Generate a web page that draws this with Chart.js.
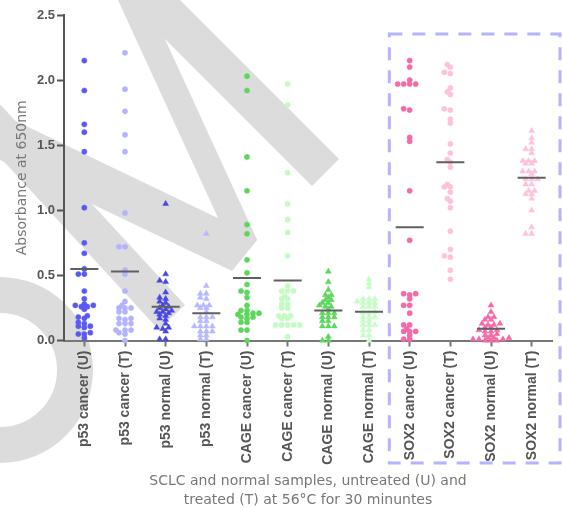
<!DOCTYPE html>
<html>
<head>
<meta charset="utf-8">
<script src="https://cdn.jsdelivr.net/npm/chart.js@4.4.1/dist/chart.umd.min.js"></script>
<style>
    html, body { margin: 0; padding: 0; background: #fff; }
    canvas { display: block; }
</style>
</head>
<body>
<canvas id="chart" width="562" height="508"></canvas>
<script>
const categories = [
    'p53 cancer (U)', 'p53 cancer (T)', 'p53 normal (U)', 'p53 normal (T)',
    'CAGE cancer (U)', 'CAGE cancer (T)', 'CAGE normal (U)', 'CAGE normal (T)',
    'SOX2 cancer (U)', 'SOX2 cancer (T)', 'SOX2 normal (U)', 'SOX2 normal (T)',
];

const p53CancerU = [2.15, 1.92, 1.66, 1.60, 1.45, 1.02, 0.75, 0.67, 0.55, 0.51, 0.51, 0.38, 0.32, 0.28, 0.27, 0.27, 0.26, 0.26, 0.24, 0.19, 0.18, 0.17, 0.14, 0.13, 0.11, 0.11, 0.10, 0.06, 0.05, 0.05, 0.02];
const p53CancerT = [2.21, 1.93, 1.76, 1.58, 1.45, 0.98, 0.72, 0.72, 0.54, 0.51, 0.38, 0.30, 0.27, 0.25, 0.25, 0.25, 0.22, 0.22, 0.17, 0.17, 0.16, 0.13, 0.13, 0.13, 0.08, 0.08, 0.08, 0.06, 0.05, 0.0];
const p53NormalU = [1.05, 0.51, 0.46, 0.45, 0.37, 0.33, 0.32, 0.30, 0.29, 0.27, 0.26, 0.25, 0.24, 0.23, 0.22, 0.22, 0.21, 0.20, 0.19, 0.17, 0.16, 0.13, 0.10, 0.10, 0.09, 0.07, 0.01, 0.01];
const p53NormalT = [0.82, 0.42, 0.36, 0.36, 0.33, 0.32, 0.27, 0.27, 0.27, 0.25, 0.25, 0.22, 0.18, 0.18, 0.18, 0.15, 0.15, 0.11, 0.11, 0.11, 0.11, 0.07, 0.07, 0.07, 0.04, 0.04, 0.01, 0.01];
const cageCancerU = [2.03, 1.92, 1.41, 1.15, 0.89, 0.82, 0.62, 0.52, 0.43, 0.38, 0.37, 0.33, 0.27, 0.23, 0.23, 0.21, 0.21, 0.20, 0.20, 0.18, 0.18, 0.17, 0.14, 0.14, 0.08, 0.08, 0.0];
const cageCancerT = [1.97, 1.81, 1.29, 1.05, 0.93, 0.83, 0.65, 0.42, 0.38, 0.38, 0.38, 0.34, 0.32, 0.32, 0.28, 0.28, 0.25, 0.25, 0.19, 0.19, 0.19, 0.17, 0.17, 0.12, 0.12, 0.12, 0.12, 0.12, 0.03];
const cageNormalU = [0.53, 0.45, 0.39, 0.35, 0.35, 0.33, 0.31, 0.31, 0.29, 0.29, 0.27, 0.26, 0.26, 0.24, 0.21, 0.21, 0.21, 0.18, 0.18, 0.18, 0.15, 0.15, 0.11, 0.11, 0.11, 0.03, 0.0, 0.0];
const cageNormalT = [0.47, 0.44, 0.41, 0.32, 0.32, 0.32, 0.30, 0.29, 0.29, 0.29, 0.26, 0.26, 0.26, 0.22, 0.21, 0.21, 0.18, 0.18, 0.18, 0.15, 0.15, 0.12, 0.12, 0.12, 0.08, 0.08, 0.04, 0.04, 0.0];
const sox2CancerU = [2.15, 2.10, 2.00, 1.97, 1.97, 1.97, 1.97, 1.78, 1.77, 1.56, 1.53, 1.15, 0.77, 0.36, 0.36, 0.35, 0.32, 0.27, 0.27, 0.21, 0.12, 0.12, 0.09, 0.07, 0.07, 0.07, 0.04, 0.01, 0.01];
const sox2CancerT = [2.12, 2.10, 2.06, 2.05, 1.94, 1.91, 1.89, 1.78, 1.77, 1.70, 1.67, 1.51, 1.44, 1.39, 1.37, 1.33, 1.20, 1.18, 1.18, 1.14, 1.09, 1.07, 1.02, 0.84, 0.70, 0.65, 0.64, 0.54, 0.47];
const sox2NormalU = [0.27, 0.22, 0.18, 0.18, 0.16, 0.16, 0.13, 0.13, 0.12, 0.12, 0.10, 0.10, 0.08, 0.08, 0.07, 0.07, 0.05, 0.04, 0.04, 0.02, 0.02, 0.02, 0.01, 0.01, 0.01, 0.0, 0.0, 0.0];
const sox2NormalT = [1.61, 1.555, 1.52, 1.47, 1.47, 1.44, 1.38, 1.38, 1.38, 1.36, 1.36, 1.30, 1.30, 1.30, 1.28, 1.24, 1.24, 1.24, 1.20, 1.20, 1.15, 1.15, 1.125, 1.125, 1.09, 1.00, 0.87, 0.82, 0.82];

// horizontal line drawn over each column
const meanLines = [0.55, 0.53, 0.26, 0.21, 0.48, 0.46, 0.23, 0.22, 0.87, 1.37, 0.09, 1.25];

const yTicks = [0, 0.5, 1.0, 1.5, 2.0, 2.5];

const groups = [
    { values: p53CancerU, color: '#5a5af2', shape: 'circle' },
    { values: p53CancerT, color: '#b3b3ff', shape: 'circle' },
    { values: p53NormalU, color: '#4848e0', shape: 'triangle' },
    { values: p53NormalT, color: '#b8b8ff', shape: 'triangle' },
    { values: cageCancerU, color: '#5cd65c', shape: 'circle' },
    { values: cageCancerT, color: '#c2fcc2', shape: 'circle' },
    { values: cageNormalU, color: '#5cd65c', shape: 'triangle' },
    { values: cageNormalT, color: '#c6fcc6', shape: 'triangle' },
    { values: sox2CancerU, color: '#f46aa8', shape: 'circle' },
    { values: sox2CancerT, color: '#ffc2dc', shape: 'circle' },
    { values: sox2NormalU, color: '#f46aa8', shape: 'triangle' },
    { values: sox2NormalT, color: '#ffc2dc', shape: 'triangle' },
];

const HALF_LINE = 0.345;   // half width of the mean bar, in category units
const SWARM_STEP = 3;      // px
const SWARM_GAP = 3.6;     // px

const meanData = [];
meanLines.forEach((m, i) => {
    meanData.push({ x: i - HALF_LINE, y: m }, { x: i + HALF_LINE, y: m }, { x: i + 0.5, y: null });
});

const datasets = [{
    data: meanData,
    showLine: true,
    spanGaps: false,
    borderColor: '#606060',
    borderWidth: 2,
    pointRadius: 0,
    clip: false,
}];

groups.forEach((g, i) => {
    datasets.push({
        group: i,
        data: g.values.map(v => ({ x: i, y: v })),
        pointStyle: g.shape,
        pointRadius: g.shape === 'triangle' ? 3.4 : 2.6,
        pointBackgroundColor: g.color,
        pointBorderColor: g.color,
        pointBorderWidth: 0.5,
        clip: false,
    });
});

// grey watermark behind the plot
const watermarkShapes = [
    [[108.8, -20], [137.8, -20], [257.2, 240], [228.2, 240]],
    [[-20, 103.8], [225, 221.4], [257.2, 240], [232, 271], [-20, 150.3]],
    [[130, -50], [339, 159], [312, 186], [76, -50]],
    [[-20, 82.6], [185, 305], [158.5, 329.4], [-20, 135.6]],
];

const watermark = {
    id: 'watermark',
    beforeDraw(chart) {
        const { ctx } = chart;
        ctx.save();
        ctx.fillStyle = '#ffffff';
        ctx.fillRect(0, 0, chart.width, chart.height);
        ctx.fillStyle = '#dcdcdc';
        watermarkShapes.forEach(shape => {
            ctx.beginPath();
            shape.forEach(([x, y], k) => (k ? ctx.lineTo(x, y) : ctx.moveTo(x, y)));
            ctx.closePath();
            ctx.fill();
        });
        ctx.strokeStyle = '#dcdcdc';
        ctx.lineWidth = 36;
        ctx.beginPath();
        ctx.arc(0, 370, 75, -Math.PI / 2, Math.PI / 2);
        ctx.stroke();
        ctx.restore();
    },
};

// dashed box round the SOX2 columns
const soxBox = {
    id: 'soxBox',
    afterDatasetsDraw(chart) {
        const { ctx, scales: { x } } = chart;
        const left = x.getPixelForValue(7.5);
        ctx.save();
        ctx.strokeStyle = '#b4b4ff';
        ctx.lineWidth = 3;
        ctx.setLineDash([13, 10]);
        ctx.strokeRect(left, 34, 560 - left, 463 - 34);
        ctx.restore();
    },
};

const placeSwarm = chart => {
    const xs = chart.scales.x;
    const ys = chart.scales.y;
    const unit = xs.getPixelForValue(1) - xs.getPixelForValue(0);
    chart.data.datasets.forEach(ds => {
        if (ds.group === undefined) return;
        const placed = [];
        const values = groups[ds.group].values.slice().sort((a, b) => a - b);
        ds.data = values.map(v => {
            const py = ys.getPixelForValue(v);
            let dx = 0;
            for (let n = 0; n < 60; n++) {
                const cand = n === 0 ? 0 : (n % 2 ? -1 : 1) * Math.ceil(n / 2) * SWARM_STEP;
                if (placed.every(q => Math.hypot(q.dx - cand, q.py - py) >= SWARM_GAP)) {
                    dx = cand;
                    break;
                }
            }
            placed.push({ dx, py });
            return { x: ds.group + dx / unit, y: v };
        });
    });
    chart.update('none');
};

const chart = new Chart(document.getElementById('chart'), {
    type: 'scatter',
    data: { datasets },
    plugins: [watermark, soxBox],
    options: {
        responsive: false,
        animation: false,
        devicePixelRatio: 1,
        layout: { padding: { top: 15, right: 10, left: 0, bottom: 0 } },
        plugins: { legend: { display: false }, tooltip: { enabled: false } },
        scales: {
            x: {
                type: 'linear',
                min: -0.5,
                max: 11.5,
                afterBuildTicks: s => { s.ticks = categories.map((_, i) => ({ value: i })); },
                afterFit: s => { s.height = 167.5; },
                grid: { drawOnChartArea: false, tickLength: 6, tickWidth: 2, tickColor: '#777777' },
                border: { color: '#777777', width: 2 },
                ticks: {
                    autoSkip: false,
                    minRotation: 90,
                    maxRotation: 90,
                    padding: 4,
                    color: '#555555',
                    font: { family: '"Liberation Sans", Arial, sans-serif', size: 14, weight: 'bold' },
                    callback: v => categories[v],
                },
                title: {
                    display: true,
                    text: ['SCLC and normal samples, untreated (U) and', 'treated (T) at 56°C for 30 minuntes'],
                    color: '#777777',
                    font: { family: '"DejaVu Sans", sans-serif', size: 14, lineHeight: 19 / 14 },
                    padding: { top: 0, bottom: -2 },
                },
            },
            y: {
                min: 0,
                max: 2.5,
                afterBuildTicks: s => { s.ticks = yTicks.map(v => ({ value: v })); },
                afterFit: s => { s.width = 64; },
                grid: { drawOnChartArea: false, tickLength: 7, tickWidth: 2, tickColor: '#555555' },
                border: { color: '#555555', width: 2 },
                ticks: {
                    padding: 2,
                    color: '#555555',
                    font: { family: '"Liberation Sans", Arial, sans-serif', size: 13, weight: 'bold' },
                    callback: v => v.toFixed(1),
                },
                title: {
                    display: true,
                    text: 'Absorbance at 650nm',
                    color: '#777777',
                    font: { family: '"DejaVu Sans", sans-serif', size: 14 },
                    padding: { top: 13.5, bottom: 0 },
                },
            },
        },
    },
});

placeSwarm(chart);
</script>
</body>
</html>
